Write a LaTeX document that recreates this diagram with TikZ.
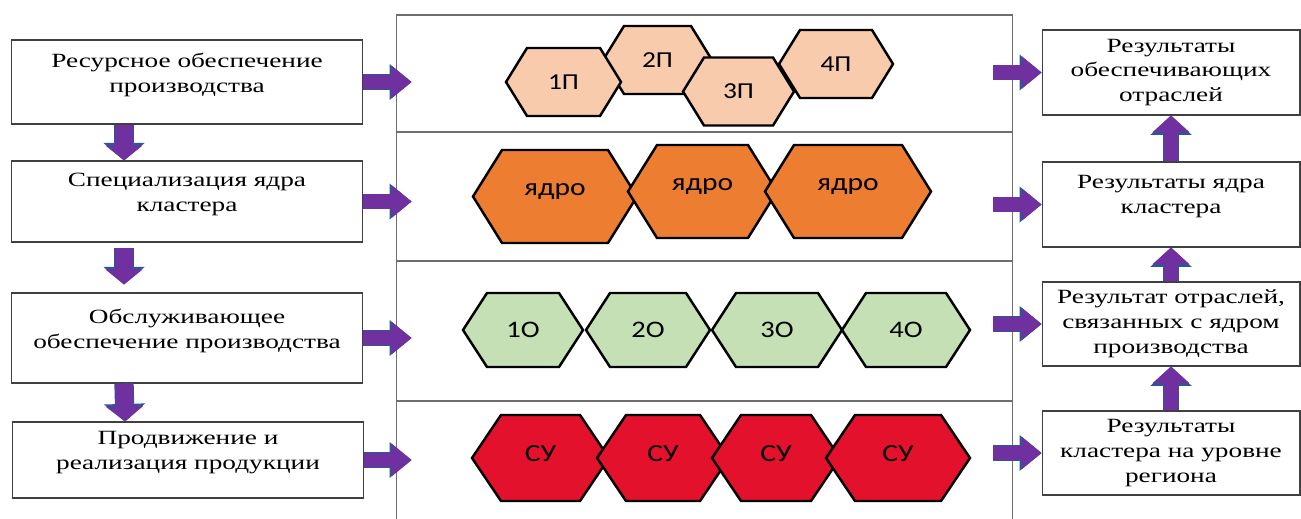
\documentclass[tikz,border=0pt]{standalone}
\usepackage{fontspec}
\setmainfont{Liberation Serif}[FakeStretch=1.35]
\newfontfamily\hexfont{Carlito}[FakeStretch=1.2]
\usepackage{tikz}
\usetikzlibrary{arrows.meta,positioning}
\definecolor{laneGray}{RGB}{110,110,110}
\definecolor{arrPurple}{RGB}{112,48,160}
\definecolor{arrBlue}{RGB}{47,85,151}
\definecolor{HexP}{RGB}{248,203,173}
\definecolor{HexCore}{RGB}{237,125,49}
\definecolor{HexO}{RGB}{197,224,180}
\definecolor{HexSU}{RGB}{228,17,45}
\tikzset{
  box/.style={draw=black!75, line width=0.6pt, align=center, inner sep=0pt,
    font=\fontsize{11.5}{14.2}\selectfont},
  lbox/.style={box, minimum width=7.04cm, text depth=0.38cm},
  rbox/.style={box, minimum width=5.16cm},
  lane/.style={draw=laneGray, line width=0.6pt, minimum width=12.34cm, inner sep=0pt},
  hex/.style={draw=black, line width=1.4pt, line join=miter},
  hexlabel/.style={inner sep=0pt, font=\hexfont\fontsize{#1}{#1}\selectfont},
  hexlabel/.default=12.5,
  % fat block arrows: purple body, thin blue rim
  hfat/.style={line width=8pt, draw=arrPurple,
    -{Triangle[length=11pt,width=18pt,line width=0pt]},
    preaction={draw=arrBlue, line width=9pt,
      -{Triangle[length=12.5pt,width=20.5pt,line width=0pt]}}},
  vfat/.style={line width=10pt, draw=arrPurple,
    -{Triangle[length=8.5pt,width=21pt,line width=0pt]},
    preaction={draw=arrBlue, line width=11pt,
      -{Triangle[length=10pt,width=23.5pt,line width=0pt]}}},
  ufat/.style={line width=8pt, draw=arrPurple,
    -{Triangle[length=9.5pt,width=21pt,line width=0pt]},
    preaction={draw=arrBlue, line width=9pt,
      -{Triangle[length=11pt,width=23.5pt,line width=0pt]}}},
}

\begin{document}
\begin{tikzpicture}[x=0.02cm,y=-0.02cm]
  \useasboundingbox (0,0) rectangle (1301,518);

  % middle frame, one lane per level
  \node[lane, minimum height=2.34cm] (row1) at (704.5,73.5) {};
  \node[lane, minimum height=2.58cm] (row2) at (704.5,196.5) {};
  \node[lane, minimum height=2.8cm]  (row3) at (704.5,331) {};
  \node[lane, minimum height=2.58cm] (row4) at (704.5,465.5) {};

  % left column: stages
  \node[lbox, minimum height=1.68cm] (l1) at (187,82)
    {Ресурсное обеспечение\\производства};
  \node[lbox, minimum height=1.62cm] (l2) at (187,201.5)
    {Специализация ядра\\кластера};
  \node[lbox, minimum height=1.8cm]  (l3) at (187,338)
    {Обслуживающее\\обеспечение производства};
  \node[lbox, minimum height=1.52cm] (l4) at (188,460)
    {Продвижение и\\реализация продукции};

  % right column: results
  \node[rbox, minimum height=1.7cm]  (r1) at (1171,72.5)
    {Результаты\\обеспечивающих\\отраслей};
  \node[rbox, minimum height=1.7cm, text depth=0.42cm]  (r2) at (1171,204.5)
    {Результаты ядра\\кластера};
  \node[rbox, minimum height=1.68cm] (r3) at (1171,324)
    {Результат отраслей,\\связанных с ядром\\производства};
  \node[rbox, minimum height=1.68cm] (r4) at (1171,453)
    {Результаты\\кластера на уровне\\региона};

  % lane 1: supply hexagons
  \def\hh{34}\def\ins{21}
  \foreach \n/\x/\y/\w/\lbl in {p2/657.5/60/109/2П, p1/563.5/82/115/1П,
                               p3/738.5/91.5/111/3П, p4/836/64/114/4П}{
    \draw[hex, fill=HexP] (\x-\w/2,\y) -- (\x-\w/2+\ins,\y-\hh) -- (\x+\w/2-\ins,\y-\hh)
      -- (\x+\w/2,\y) -- (\x+\w/2-\ins,\y+\hh) -- (\x-\w/2+\ins,\y+\hh) -- cycle;
    \node[hexlabel=13] (\n) at (\x,\y) {\lbl};
  }
  % lane 2: core
  \def\hh{46.5}\def\ins{29}
  \foreach \n/\x/\y/\w in {c1/555/196.5/164, c2/702.5/191.5/149, c3/848/191.5/166}{
    \draw[hex, fill=HexCore] (\x-\w/2,\y) -- (\x-\w/2+\ins,\y-\hh) -- (\x+\w/2-\ins,\y-\hh)
      -- (\x+\w/2,\y) -- (\x+\w/2-\ins,\y+\hh) -- (\x-\w/2+\ins,\y+\hh) -- cycle;
    \node[hexlabel=14] (\n) at (\x,\y-5) {ядро};
  }
  % lane 3: service
  \def\hh{37}\def\ins{24}
  \foreach \n/\x/\w/\lbl in {o1/523/120/1О, o2/648/124/2О, o3/777/130/3О, o4/906/128/4О}{
    \draw[hex, fill=HexO] (\x-\w/2,330) -- (\x-\w/2+\ins,330-\hh) -- (\x+\w/2-\ins,330-\hh)
      -- (\x+\w/2,330) -- (\x+\w/2-\ins,330+\hh) -- (\x-\w/2+\ins,330+\hh) -- cycle;
    \node[hexlabel=13.5] (\n) at (\x,330) {\lbl};
  }
  % lane 4: sales
  \def\hh{43}\def\ins{29}
  \foreach \n/\x/\w in {s1/540.5/137, s2/663/132, s3/776/128, s4/898/144}{
    \draw[hex, fill=HexSU] (\x-\w/2,458) -- (\x-\w/2+\ins,458-\hh) -- (\x+\w/2-\ins,458-\hh)
      -- (\x+\w/2,458) -- (\x+\w/2-\ins,458+\hh) -- (\x-\w/2+\ins,458+\hh) -- cycle;
    \node[hexlabel=14] (\n) at (\x,454) {СУ};
  }

  % arrows down the left column
  \draw[vfat] ([xshift=-1.26cm]l1.south) -- ([xshift=-1.26cm]l2.north);
  \draw[vfat, shorten <=0.1cm, shorten >=0.16cm]
    ([xshift=-1.26cm]l2.south) -- ([xshift=-1.26cm]l3.north);
  \draw[vfat] ([xshift=-1.26cm]l3.south) -- ([xshift=-1.26cm]l4.north);
  % arrows up the right column
  \draw[ufat] (r2.north) -- (r1.south);
  \draw[ufat] (r3.north) -- (r2.south);
  \draw[ufat] (r4.north) -- (r3.south);
  % arrows into and out of the lanes
  \foreach \i in {1,2,3,4}{
    \draw[hfat] (l\i.east) -- ([xshift=0.32cm]l\i.east -| row\i.west);
    \draw[hfat] ([xshift=-0.4cm]r\i.west -| row\i.east) -- (r\i.west);
  }
\end{tikzpicture}
\end{document}
